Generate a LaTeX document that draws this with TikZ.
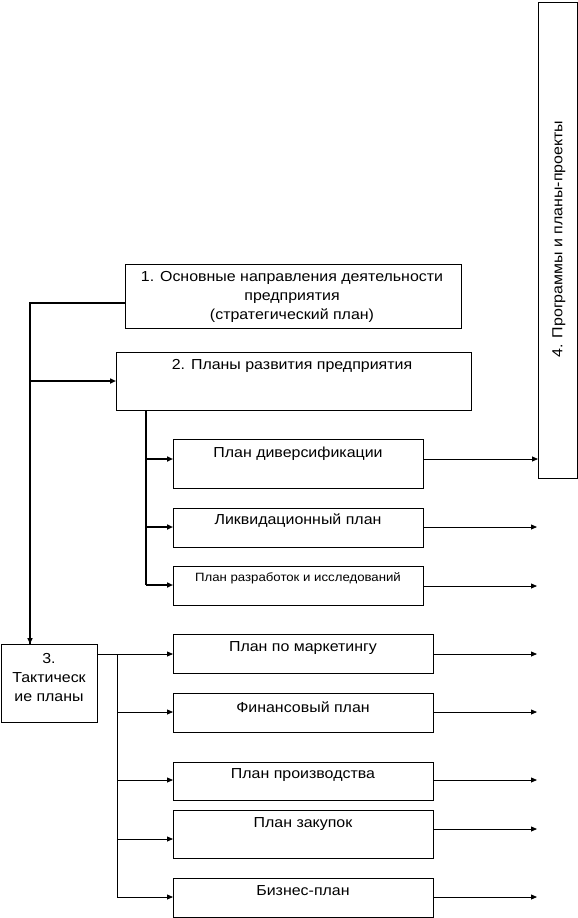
\documentclass[tikz,border=0pt]{standalone}
\usepackage{fontspec}
\setmainfont{Liberation Sans}[FakeStretch=1.1]
\usetikzlibrary{arrows.meta}
\tikzset{
  box/.style={draw, line width=0.8pt, inner sep=0pt, anchor=north west},
  txt/.style={inner sep=0pt, align=center, font=\fontsize{14.5}{19}\selectfont},
  stxt/.style={inner sep=0pt, align=center, font=\fontsize{12}{14}\selectfont},
  thick line/.style={line width=2.6pt},
  thin line/.style={line width=0.8pt},
  tip/.style={-{Triangle[length=6pt,width=5pt]}},
}
\newcommand{\boxat}[5]{% name, x1, y1, x2, y2
  \node[box, minimum width=#4-#2, minimum height=#5-#3] (#1) at (#2,#3) {};}
\begin{document}
\begin{tikzpicture}[x=1pt,y=-1pt]
\useasboundingbox (0,0) rectangle (578,918);
% boxes
\boxat{b1}{125}{264}{461}{328}
\boxat{b2}{116}{352}{471}{410}
\boxat{b4}{538}{2}{577}{478}
\boxat{bd}{173}{439}{423}{488}
\boxat{bl}{173}{508}{423}{547}
\boxat{br}{173}{566}{423}{605}
\boxat{b3}{1}{644}{97}{722}
\boxat{bm}{173}{634}{433}{673}
\boxat{bf}{173}{693}{433}{732}
\boxat{bp}{173}{762}{433}{800}
\boxat{bz}{173}{810}{433}{858}
\boxat{bb}{173}{878}{433}{917}
% texts
\node[txt] (t1) at (292,297) {1. Основные направления деятельности\\предприятия\\(стратегический план)};
\node[txt] (t2) at (292,366) {2. Планы развития предприятия};
\node[txt, rotate=90] (t4) at (559,239) {4. Программы и планы-проекты};
\node[txt] (td) at (298,454) {План диверсификации};
\node[txt] (tl) at (298,521) {Ликвидационный план};
\node[stxt] (tr) at (298,578) {План разработок и исследований};
\node[txt] (t3) at (49,677) {3.\\Тактическ\\ие планы};
\node[txt] (tm) at (303,648) {План по маркетингу};
\node[txt] (tf) at (303,707) {Финансовый план};
\node[txt] (tp) at (303,775) {План производства};
\node[txt] (tz) at (303,824) {План закупок};
\node[txt] (tb) at (303,891) {Бизнес-план};
% coordinates
\coordinate (k1) at (30,303);
\coordinate (k2) at (30,381);
\coordinate (k3) at (146,410);
\coordinate (k4) at (146,585);
\coordinate (k5) at (117,654);
\coordinate (k6) at (117,897);
\foreach \n/\y in {r1/527,r2/586,r3/654,r4/712,r5/780,r6/829,r7/897}
  \coordinate (\n) at (537,\y);
% thick connectors
\draw[thick line] (b1.west |- k1) -- (k1) -- (k1 |- b3.north);
\draw[thick line, tip] (k1 |- b3.north) ++(0,-6) -- (k1 |- b3.north);
\draw[thick line, tip] (k2) -- (k2 -| b2.west);
\draw[thick line] (k3) -- (k4);
\foreach \b/\y in {bd/459,bl/527,br/585}
  \draw[thick line, tip] (146,\y) -- (\b.west |- 0,\y);
% thin connectors right of upper boxes
\draw[thin line, tip] (bd.east |- 0,459) -- (b4.west |- 0,459);
\draw[thin line, tip] (bl.east |- r1) -- (r1);
\draw[thin line, tip] (br.east |- r2) -- (r2);
% tactical branches
\draw[thin line] (b3.east |- k5) -- (k5) -- (k6);
\draw[thin line, tip] (k5) -- (bm.west |- k5);
\foreach \b/\y in {bf/712,bp/780,bz/839,bb/897}
  \draw[thin line, tip] (117,\y) -- (\b.west |- 0,\y);
\draw[thin line, tip] (bm.east |- r3) -- (r3);
\draw[thin line, tip] (bf.east |- r4) -- (r4);
\draw[thin line, tip] (bp.east |- r5) -- (r5);
\draw[thin line, tip] (bz.east |- r6) -- (r6);
\draw[thin line, tip] (bb.east |- r7) -- (r7);
\end{tikzpicture}
\end{document}
